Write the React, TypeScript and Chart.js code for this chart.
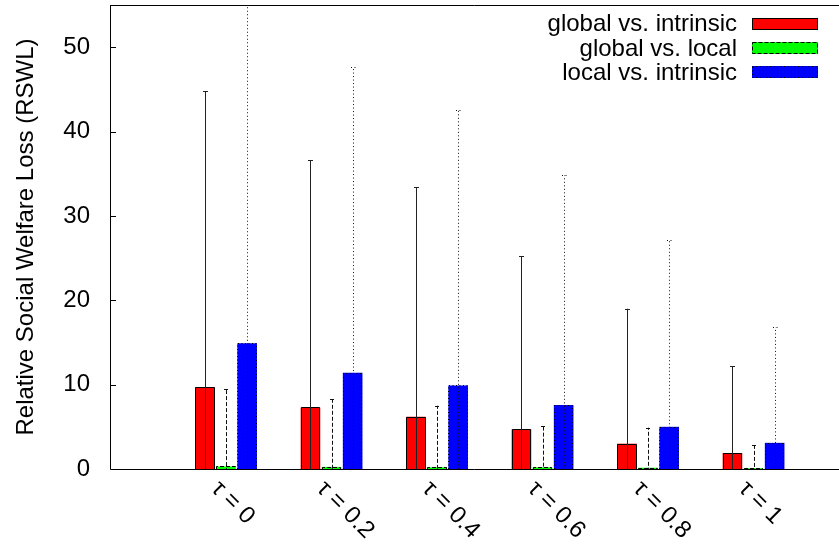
import React, { useEffect, useRef } from "react";
import { Chart, registerables } from "chart.js";

Chart.register(...registerables);

const categories = ["τ = 0", "τ = 0.2", "τ = 0.4", "τ = 0.6", "τ = 0.8", "τ = 1"];
const seriesLabels = ["global vs. intrinsic", "global vs. local", "local vs. intrinsic"];
const globalVsIntrinsic = [9.7, 7.3, 6.2, 4.7, 3.0, 1.9];
const globalVsIntrinsicHigh = [44.8, 36.6, 33.4, 25.2, 19.0, 12.2];
const globalVsLocal = [0.3, 0.25, 0.2, 0.2, 0.15, 0.1];
const globalVsLocalHigh = [9.5, 8.3, 7.5, 5.1, 4.9, 2.8];
const localVsIntrinsic = [14.9, 11.4, 9.9, 7.6, 5.0, 3.1];
const localVsIntrinsicHigh = [56.5, 47.7, 42.6, 34.8, 27.1, 16.8];
const yTicks = [0, 10, 20, 30, 40, 50];

const FONT = "'Liberation Sans', Arial, Helvetica, sans-serif";

const seriesStyles = [
  { fill: "#ff0000", dash: [] as number[] },
  { fill: "#00ff00", dash: [4, 2] },
  { fill: "#0000ff", dash: [1, 2.5] },
];

const values = [globalVsIntrinsic, globalVsLocal, localVsIntrinsic];
const highs = [globalVsIntrinsicHigh, globalVsLocalHigh, localVsIntrinsicHigh];

const framePlugin = {
  id: "frame",
  afterDatasetsDraw(chart: any) {
    const ctx = chart.ctx;
    const area = chart.chartArea;
    const yScale = chart.scales.y;
    ctx.save();
    // dashed/dotted bar borders
    chart.data.datasets.forEach((ds: any, di: number) => {
      const meta = chart.getDatasetMeta(di);
      const st = seriesStyles[di];
      meta.data.forEach((bar: any) => {
        const p = bar.getProps(["x", "y", "base", "width"], true);
        const l = p.x - p.width / 2;
        const r = p.x + p.width / 2;
        ctx.strokeStyle = "#000";
        ctx.lineWidth = 1;
        ctx.setLineDash(st.dash);
        ctx.beginPath();
        ctx.moveTo(Math.round(l) + 0.5, p.base);
        ctx.lineTo(Math.round(l) + 0.5, Math.round(p.y) + 0.5);
        ctx.lineTo(Math.round(r) - 0.5, Math.round(p.y) + 0.5);
        ctx.lineTo(Math.round(r) - 0.5, p.base);
        ctx.stroke();
      });
    });
    // error bars
    ctx.beginPath();
    ctx.rect(area.left, area.top, area.right - area.left, area.bottom - area.top);
    ctx.clip();
    chart.data.datasets.forEach((ds: any, di: number) => {
      const meta = chart.getDatasetMeta(di);
      const st = seriesStyles[di];
      meta.data.forEach((bar: any, i: number) => {
        const v = values[di][i];
        const hi = highs[di][i];
        const lo = v - (hi - v);
        const x = Math.round(bar.x) + 0.5;
        const yHi = yScale.getPixelForValue(hi);
        const yLo = yScale.getPixelForValue(lo);
        ctx.strokeStyle = di === 0 ? "#222" : "#111";
        ctx.lineWidth = 1;
        ctx.setLineDash(st.dash);
        ctx.beginPath();
        ctx.moveTo(x, yLo);
        ctx.lineTo(x, yHi);
        ctx.stroke();
        ctx.beginPath();
        ctx.moveTo(x - 2.5, Math.round(yHi) + 0.5);
        ctx.lineTo(x + 2.5, Math.round(yHi) + 0.5);
        ctx.stroke();
      });
    });
    ctx.restore();

    // frame
    ctx.save();
    ctx.strokeStyle = "#000";
    ctx.lineWidth = 1;
    ctx.setLineDash([]);
    ctx.beginPath();
    ctx.moveTo(area.left + 0.5, area.top + 0.5);
    ctx.lineTo(area.right, area.top + 0.5);
    ctx.moveTo(area.left + 0.5, area.top);
    ctx.lineTo(area.left + 0.5, area.bottom + 0.5);
    ctx.lineTo(area.right, area.bottom + 0.5);
    ctx.stroke();
    // inner y ticks
    ctx.beginPath();
    yTicks.forEach((t) => {
      if (t === 0) return;
      const y = Math.round(yScale.getPixelForValue(t)) + 0.5;
      ctx.moveTo(area.left, y);
      ctx.lineTo(area.left + 6, y);
    });
    ctx.stroke();

    // rotated x labels
    const xScale = chart.scales.x;
    ctx.fillStyle = "#000";
    ctx.font = `24px ${FONT}`;
    ctx.textAlign = "left";
    ctx.textBaseline = "middle";
    categories.forEach((c, i) => {
      const x = xScale.getPixelForValue(i);
      ctx.save();
      ctx.translate(x - 11, area.bottom + 16);
      ctx.rotate(Math.PI / 4);
      ctx.fillText(c, 0, 0);
      ctx.restore();
    });

    // legend
    ctx.font = `24px ${FONT}`;
    ctx.textAlign = "right";
    ctx.textBaseline = "middle";
    chart.data.datasets.forEach((ds: any, di: number) => {
      const cy = 23.5 + di * 24.4;
      ctx.fillStyle = "#000";
      ctx.fillText(ds.label, 737, cy + 1);
      const st = seriesStyles[di];
      ctx.fillStyle = st.fill;
      ctx.fillRect(752, Math.round(cy - 6), 66, 12);
      ctx.strokeStyle = "#000";
      ctx.setLineDash(st.dash);
      ctx.strokeRect(752.5, Math.round(cy - 6) + 0.5, 65, 11);
    });
    ctx.restore();
  },
};

export default function App() {
  const ref = useRef<HTMLCanvasElement | null>(null);
  useEffect(() => {
    if (!ref.current) return;
    const datasets = values.map((vals, di) => ({
      label: seriesLabels[di],
      data: vals.map((v, i) => ({ x: i, y: v })),
      backgroundColor: seriesStyles[di].fill,
      borderColor: "#000",
      borderWidth: 0,
      categoryPercentage: 0.6,
      barPercentage: 0.93,
    }));
    const chart = new Chart(ref.current, {
      type: "bar",
      data: { datasets },
      plugins: [framePlugin],
      options: {
        animation: false,
        responsive: false,
        events: [],
        layout: { padding: { top: 5, left: 0, right: 0, bottom: 0 } },
        plugins: { legend: { display: false }, tooltip: { enabled: false } },
        scales: {
          x: {
            type: "linear",
            min: -1.1,
            max: 5.81,
            offset: false,
            grid: { display: false },
            border: { display: false },
            ticks: { display: false },
            afterBuildTicks: (s: any) => {
              s.ticks = categories.map((_, i) => ({ value: i }));
            },
            afterFit: (s: any) => {
              s.height = 77;
              s.paddingLeft = 0;
              s.paddingRight = 0;
            },
          },
          y: {
            min: 0,
            max: 55,
            grid: { display: false, drawTicks: false },
            border: { display: false },
            afterBuildTicks: (s: any) => {
              s.ticks = yTicks.map((v) => ({ value: v }));
            },
            ticks: {
              color: "#000",
              padding: 20,
              font: { family: FONT, size: 24 },
            },
            title: {
              display: true,
              text: "Relative Social Welfare Loss (RSWL)",
              color: "#000",
              font: { family: FONT, size: 24 },
              padding: { top: 12, bottom: 0 },
            },
            afterFit: (s: any) => {
              s.width = 110;
              s.paddingTop = 0;
              s.paddingBottom = 0;
            },
          },
        },
      },
    });
    return () => chart.destroy();
  }, []);
  return (
    <div style={{ position: "absolute", left: 0, top: 0, width: 839, height: 546, background: "#fff" }}>
      <canvas ref={ref} width={839} height={546} style={{ display: "block" }} />
    </div>
  );
}
